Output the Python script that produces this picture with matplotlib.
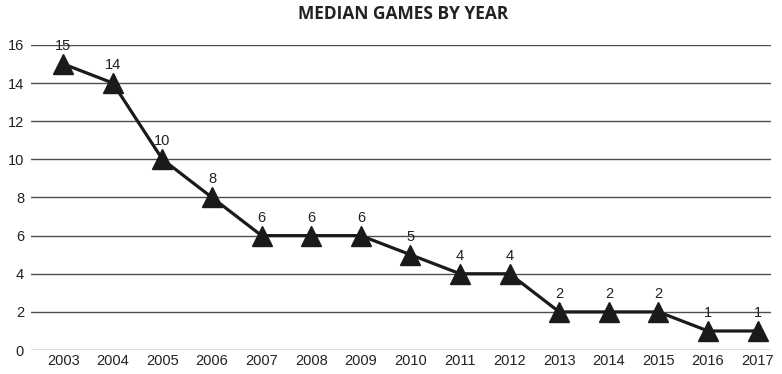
import matplotlib
matplotlib.use("Agg")
import matplotlib.pyplot as plt

# median number of games per year
years = [2003, 2004, 2005, 2006, 2007, 2008, 2009, 2010, 2011, 2012, 2013, 2014, 2015, 2016, 2017]
median_games = [15, 14, 10, 8, 6, 6, 6, 5, 4, 4, 2, 2, 2, 1, 1]
y_ticks = [0, 2, 4, 6, 8, 10, 12, 14, 16]

plt.rcParams['font.family'] = ['Liberation Sans', 'DejaVu Sans']

fig = plt.figure(figsize=(7.82, 3.74), dpi=100)
ax = fig.add_axes([0.0396, 0.064, 0.9464, 0.816])

for t in y_ticks:
    ax.axhline(t, color='#4d4d4d', linewidth=1.0, zorder=1)

ax.plot(years, median_games, color='#1a1a1a', linewidth=2.3, marker='^',
        markersize=14, markerfacecolor='#1a1a1a', markeredgecolor='#1a1a1a', zorder=3)

for x, y in zip(years, median_games):
    ax.annotate(str(y), (x, y), xytext=(0, 8), textcoords='offset points',
                ha='center', va='bottom', fontsize=10.5, color='#222222')

ax.set_xlim(2002.35, 2017.27)
ax.set_ylim(0, 16)
ax.set_xticks(years)
ax.set_yticks(y_ticks)
ax.tick_params(length=0, labelsize=10.5, colors='#222222')
ax.tick_params(axis='x', pad=3)
ax.tick_params(axis='y', pad=5)
for s in ax.spines.values():
    s.set_visible(False)

fig.text(0.515, 0.963, 'MEDIAN GAMES BY YEAR', ha='center', va='center',
         fontsize=12.5, fontweight='bold', family='Open Sans', color='#222222')

fig.savefig('out.png', dpi=100)
